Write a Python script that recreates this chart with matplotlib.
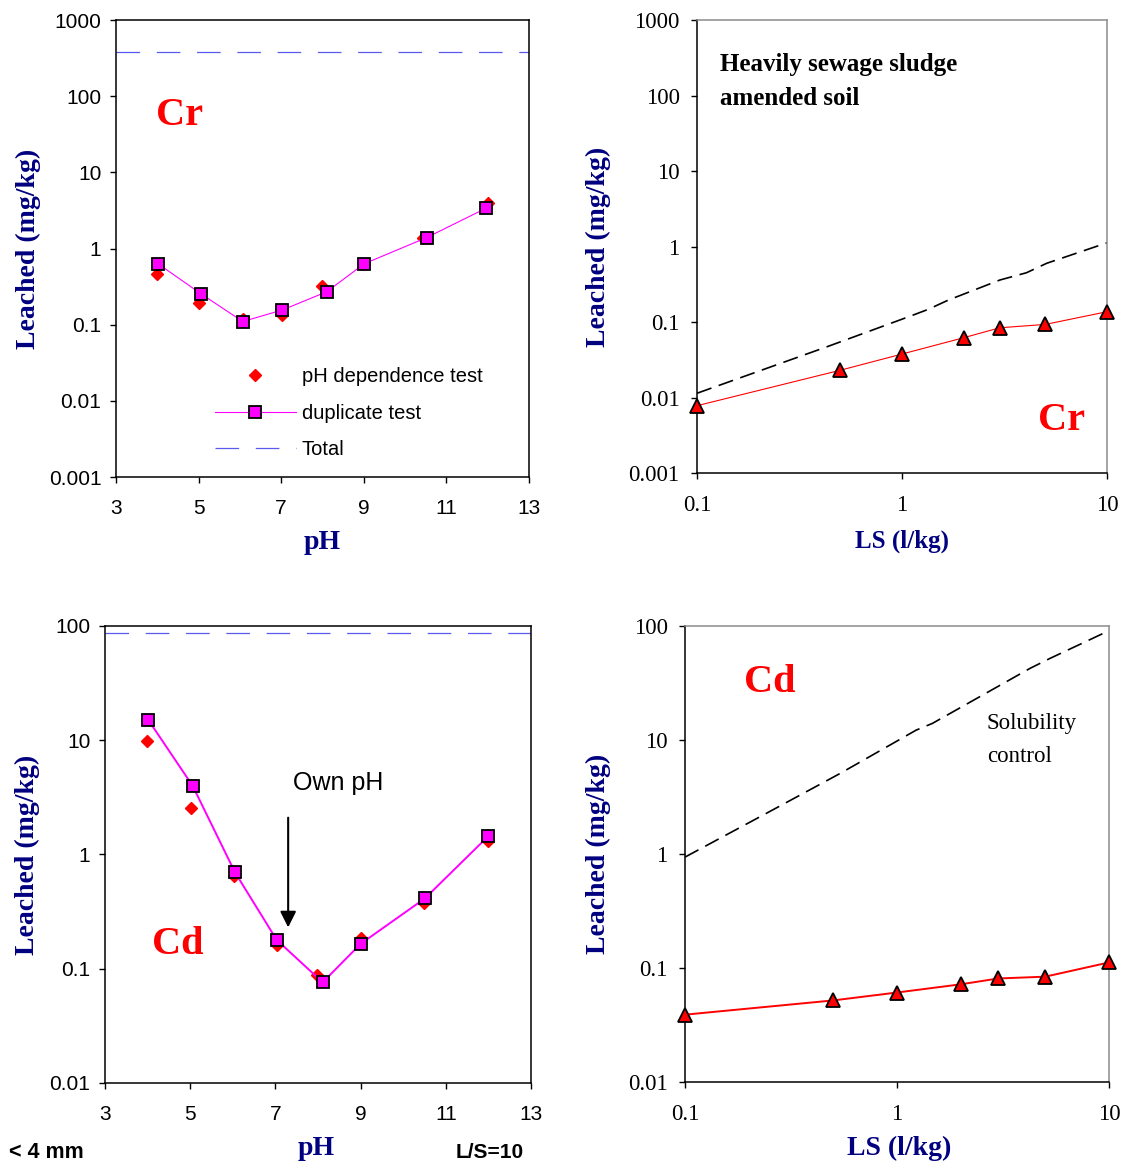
import matplotlib
matplotlib.use('Agg')
import matplotlib.pyplot as plt
from matplotlib.ticker import FixedLocator, FuncFormatter, NullLocator

plt.rcParams['lines.scale_dashes'] = False

SERIF = 'Liberation Serif'
SANS = 'Liberation Sans'
NAVY = '#000080'

# --- Cr, pH dependence (top left) ---
ph_dep_cr_x = [4.0, 5.0, 6.07, 7.03, 8.0, 9.0, 10.44, 12.0]
ph_dep_cr_y = [0.46, 0.19, 0.12, 0.135, 0.32, 0.62, 1.37, 3.9]
dup_cr_x = [4.02, 5.05, 6.07, 7.03, 8.1, 9.01, 10.52, 11.97]
dup_cr_y = [0.63, 0.256, 0.11, 0.156, 0.27, 0.63, 1.39, 3.4]
total_cr = 380

# --- Cd, pH dependence (bottom left) ---
ph_dep_cd_x = [3.98, 5.01, 6.04, 7.03, 7.97, 9.0, 10.5, 12.0]
ph_dep_cd_y = [9.9, 2.57, 0.65, 0.16, 0.088, 0.185, 0.38, 1.3]
dup_cd_x = [4.02, 5.06, 6.05, 7.03, 8.11, 9.0, 10.51, 12.0]
dup_cd_y = [15.0, 3.98, 0.70, 0.179, 0.076, 0.165, 0.413, 1.45]
total_cd = 87
own_ph = 7.3

# --- column tests vs L/S (right) ---
ls = [0.1, 0.5, 1, 2, 3, 5, 10]
col_cr = [0.0078, 0.023, 0.0377, 0.062, 0.084, 0.093, 0.137]
col_cd = [0.039, 0.052, 0.061, 0.072, 0.081, 0.084, 0.112]
sol_cr_x = [0.1, 0.43, 1.1, 1.34, 1.68, 3.0, 4.05, 5.08, 10]
sol_cr_y = [0.0114, 0.047, 0.12, 0.147, 0.195, 0.36, 0.45, 0.6, 1.12]
sol_cd_x = [0.1, 0.234, 0.54, 1.23, 1.47, 4.24, 5.27, 10]
sol_cd_y = [0.94, 2.2, 5.1, 12.2, 14, 42.5, 52, 91]

ph_ticks = [3, 5, 7, 9, 11, 13]
ls_ticks = [0.1, 1, 10]
y_ticks_6 = [0.001, 0.01, 0.1, 1, 10, 100, 1000]
y_ticks_4 = [0.01, 0.1, 1, 10, 100]

fmt = FuncFormatter(lambda v, p: '%g' % v)

fig = plt.figure(figsize=(11.25, 11.64), dpi=100)
ax_tl = fig.add_axes([0.1031, 0.5902, 0.3671, 0.3926])
ax_tr = fig.add_axes([0.6196, 0.5936, 0.3644, 0.3892])
ax_bl = fig.add_axes([0.0933, 0.0696, 0.3787, 0.3926])
ax_br = fig.add_axes([0.6089, 0.0704, 0.3769, 0.3918])


def setup(ax, xticks, yticks, font, size, ypad, xpad, gray):
    ax.set_yscale('log')
    if xticks is ls_ticks:
        ax.set_xscale('log')
    ax.set_xlim(xticks[0], xticks[-1])
    ax.set_ylim(yticks[0], yticks[-1])
    ax.xaxis.set_major_locator(FixedLocator(xticks))
    ax.yaxis.set_major_locator(FixedLocator(yticks))
    ax.xaxis.set_minor_locator(NullLocator())
    ax.yaxis.set_minor_locator(NullLocator())
    ax.xaxis.set_major_formatter(fmt)
    ax.yaxis.set_major_formatter(fmt)
    ax.tick_params(axis='both', direction='out', length=4.5, width=1.0,
                   labelsize=size, labelfontfamily=font)
    ax.tick_params(axis='y', pad=ypad)
    ax.tick_params(axis='x', pad=xpad)
    for s in ax.spines.values():
        s.set_linewidth(1.1)
    if gray:
        ax.spines['top'].set_color('#8c8c8c')
        ax.spines['right'].set_color('#8c8c8c')


def labels(ax, xl, xpos, ypos_y, size_x, size_y):
    ax.set_xlabel(xl, fontsize=size_x, fontweight='bold', family=SERIF, color=NAVY)
    ax.set_ylabel('Leached (mg/kg)', fontsize=size_y, fontweight='bold', family=SERIF, color=NAVY)
    ax.xaxis.set_label_coords(*xpos)
    ax.xaxis.label.set_va('center')
    ax.yaxis.set_label_coords(ypos_y, 0.5)
    ax.yaxis.label.set_va('center')


setup(ax_tl, ph_ticks, y_ticks_6, SANS, 15, 6, 11, False)
setup(ax_bl, ph_ticks, y_ticks_4, SANS, 15, 6, 11, False)
setup(ax_tr, ls_ticks, y_ticks_6, SERIF, 16.5, 8, 11, True)
setup(ax_br, ls_ticks, y_ticks_4, SERIF, 16.5, 8, 11, True)

labels(ax_tl, 'pH', (0.499, -0.144), -0.213, 20, 20)
labels(ax_bl, 'pH', (0.495, -0.144), -0.181, 20, 20)
labels(ax_tr, 'LS (l/kg)', (0.499, -0.150), -0.241, 18, 20)
labels(ax_br, 'LS (l/kg)', (0.505, -0.145), -0.205, 20, 20)

# pH dependence panels
for ax, dx, dy, sx, sy, tot, lw in [
        (ax_tl, ph_dep_cr_x, ph_dep_cr_y, dup_cr_x, dup_cr_y, total_cr, 0.8),
        (ax_bl, ph_dep_cd_x, ph_dep_cd_y, dup_cd_x, dup_cd_y, total_cd, 1.4)]:
    ax.plot(dx, dy, linestyle='none', marker='D', ms=6.6, color='#ff0000',
            mec='#ff0000', label='pH dependence test', zorder=3)
    ax.plot(sx, sy, color='#ff00ff', lw=lw, marker='s', ms=8.2, mfc='#ff00ff',
            mec='black', mew=1.3, label='duplicate test', zorder=4)
    ax.axhline(tot, color='#5a5af0', lw=0.9, dashes=(17, 12), label='Total')

leg = ax_tl.legend(loc='upper left', bbox_to_anchor=(0.24, 0.24), frameon=False,
                   borderpad=0, borderaxespad=0, handlelength=4.0, handletextpad=0.3,
                   labelspacing=0.87, numpoints=1, prop={'family': SANS, 'size': 14.5})

# column test panels
for ax, y, sx, sy, lw in [(ax_tr, col_cr, sol_cr_x, sol_cr_y, 0.8),
                          (ax_br, col_cd, sol_cd_x, sol_cd_y, 1.4)]:
    ax.plot(sx, sy, color='black', lw=1.2, dashes=(11, 5.5), zorder=2)
    ax.plot(ls, y, color='#ff0000', lw=lw, marker='^', ms=10, mfc='#ff0000',
            mec='black', mew=1.3, clip_on=False, zorder=4)

# element labels
red = dict(color='#ff0000', fontweight='bold', family=SERIF, ha='center', va='center')
ax_tl.text(0.153, 0.792, 'Cr', fontsize=29, transform=ax_tl.transAxes, **red)
ax_tr.text(0.890, 0.115, 'Cr', fontsize=29, transform=ax_tr.transAxes, **red)
ax_bl.text(0.170, 0.302, 'Cd', fontsize=29, transform=ax_bl.transAxes, **red)
ax_br.text(0.200, 0.876, 'Cd', fontsize=29, transform=ax_br.transAxes, **red)

ax_tr.text(0.056, 0.928, 'Heavily sewage sludge\namended soil', fontsize=18,
           fontweight='bold', family=SERIF, va='top', ha='left', linespacing=1.62,
           transform=ax_tr.transAxes)
ax_br.text(0.712, 0.810, 'Solubility\ncontrol', fontsize=16.5, family=SERIF,
           va='top', ha='left', linespacing=1.78, transform=ax_br.transAxes)

ax_bl.annotate('', xy=(own_ph, 0.23), xytext=(own_ph, 2.1),
               arrowprops=dict(arrowstyle='-|>', color='black', lw=1.5,
                               mutation_scale=24, shrinkA=0, shrinkB=0))
ax_bl.text(7.41, 4.2, 'Own pH', fontsize=18, family=SANS, va='center', ha='left')

fig.text(0.008, 0.0103, '< 4 mm', fontsize=15.5, fontweight='bold', family=SANS, va='center')
fig.text(0.405, 0.0103, 'L/S=10', fontsize=15, fontweight='bold', family=SANS, va='center')

fig.savefig('out.png', dpi=100)
